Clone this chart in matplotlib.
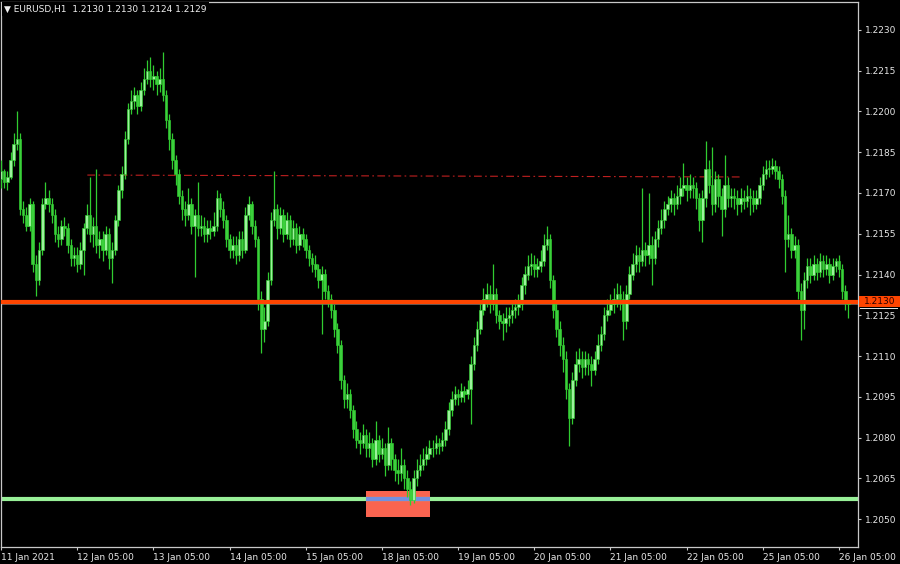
import matplotlib
matplotlib.use("Agg")
import matplotlib.pyplot as plt
import numpy as np
from matplotlib.patches import Rectangle
from matplotlib.transforms import blended_transform_factory

# ---------------- data ----------------
title_text = "\u25BC EURUSD,H1  1.2130 1.2130 1.2124 1.2129"
price_base = 1.2000          # prices below are given in pips above 1.2000
first_open_pips = 175

close_pips = [
    178, 174, 176, 182, 188, 190, 164, 162, 158, 166,
    144, 138, 149, 166, 168, 166, 162, 155, 153, 158,
    157, 151, 146, 147, 144, 149, 157, 162, 155, 158,
    151, 153, 149, 155, 146, 149, 160, 171, 177, 190,
    201, 204, 206, 202, 208, 212, 215, 212, 213, 210,
    212, 206, 197, 190, 182, 177, 169, 164, 162, 166,
    158, 162, 157, 158, 155, 157, 156, 158, 168, 164,
    160, 153, 149, 151, 147, 153, 149, 162, 166, 158,
    153, 131, 120, 123, 138, 160, 164, 157, 162, 155,
    160, 153, 157, 151, 155, 153, 149, 146, 144, 142,
    138, 140, 134, 131, 127, 120, 114, 101, 94, 96,
    90, 83, 79, 78, 81, 76, 78, 72, 79, 74,
    76, 70, 78, 72, 68, 67, 70, 65, 61, 57,
    65, 68, 70, 72, 74, 76, 76, 78, 77, 79,
    83, 90, 94, 96, 95, 97, 96, 98, 107, 114,
    120, 127, 131, 133, 129, 133, 125, 123, 122, 124,
    125, 127, 128, 129, 136, 140, 143, 144, 142, 143,
    145, 151, 153, 138, 127, 120, 114, 109, 98, 87,
    101, 107, 109, 106, 109, 107, 105, 109, 114, 118,
    125, 127, 129, 131, 133, 131, 123, 133, 140, 144,
    147, 145, 149, 147, 151, 146, 153, 157, 160, 164,
    166, 168, 166, 169, 172, 173, 171, 173, 172, 168,
    160, 168, 179, 173, 166, 175, 169, 164, 173, 168,
    169, 168, 166, 168, 167, 169, 168, 166, 168, 173,
    177, 179, 179, 180, 178, 175, 169, 153, 155, 149,
    151, 134, 127, 138, 143, 140, 144, 141, 145, 142,
    144, 140, 143, 145, 142, 134, 130, 129,
]

high_pips = [
    182, 179, 178, 185, 192, 200, 192, 167, 165, 168,
    167, 147, 152, 168, 174, 171, 168, 164, 158, 160,
    161, 159, 153, 150, 150, 152, 159, 166, 176, 161,
    179, 156, 156, 158, 157, 152, 162, 173, 180, 193,
    203, 208, 209, 208, 211, 216, 219, 220, 217, 215,
    216, 222, 208, 199, 192, 184, 179, 171, 167, 172,
    168, 164, 174, 162, 161, 160, 160, 163, 171, 170,
    167, 162, 155, 154, 154, 156, 156, 165, 169, 167,
    160, 154, 134, 128, 141, 163, 178, 166, 165, 164,
    163, 162, 160, 159, 158, 157, 155, 151, 148, 147,
    144, 143, 142, 136, 133, 129, 122, 116, 103, 100,
    98, 92, 86, 82, 85, 83, 82, 80, 86, 81,
    80, 78, 84, 80, 74, 72, 76, 72, 68, 64,
    68, 72, 74, 76, 77, 79, 79, 81, 80, 82,
    86, 93, 97, 99, 98, 100, 99, 101, 110, 117,
    123, 130, 135, 137, 136, 144, 135, 127, 126, 128,
    128, 130, 131, 133, 139, 143, 147, 148, 147, 146,
    149, 155, 158, 155, 140, 130, 123, 117, 112, 100,
    104, 112, 113, 112, 112, 111, 110, 112, 118, 121,
    128, 131, 133, 135, 137, 136, 134, 136, 143, 148,
    151, 150, 172, 152, 170, 154, 156, 160, 164, 167,
    169, 171, 170, 173, 176, 181, 176, 177, 176, 174,
    170, 171, 189, 182, 187, 178, 177, 172, 184, 176,
    172, 172, 171, 172, 171, 173, 172, 171, 171, 176,
    180, 182, 182, 183, 182, 180, 177, 171, 162, 157,
    154, 153, 137, 141, 146, 146, 147, 146, 148, 147,
    147, 146, 146, 146, 147, 144, 136, 130,
]

low_pips = [
    172, 172, 171, 175, 180, 186, 162, 159, 156, 156,
    141, 132, 136, 147, 164, 163, 159, 152, 150, 151,
    154, 148, 143, 143, 141, 142, 140, 155, 152, 150,
    148, 146, 145, 147, 142, 137, 147, 158, 168, 175,
    188, 199, 201, 199, 200, 206, 210, 209, 208, 206,
    207, 204, 194, 186, 179, 173, 166, 160, 158, 160,
    155, 139, 154, 154, 152, 152, 153, 154, 156, 161,
    157, 150, 146, 146, 144, 145, 146, 148, 160, 155,
    150, 127, 111, 115, 121, 136, 158, 153, 155, 152,
    153, 150, 151, 148, 149, 150, 146, 143, 141, 139,
    135, 118, 131, 128, 124, 117, 111, 98, 91, 91,
    87, 80, 76, 74, 76, 73, 73, 69, 70, 71,
    72, 66, 68, 68, 64, 63, 64, 61, 58, 55,
    56, 62, 66, 68, 70, 72, 73, 74, 74, 75,
    77, 81, 88, 92, 92, 93, 93, 94, 85, 105,
    112, 118, 125, 128, 126, 127, 122, 120, 116, 119,
    121, 122, 124, 125, 127, 133, 138, 140, 139, 139,
    141, 143, 149, 135, 124, 117, 110, 104, 94, 77,
    85, 99, 104, 102, 103, 103, 99, 103, 107, 112,
    116, 123, 125, 126, 128, 127, 116, 120, 131, 138,
    141, 141, 143, 143, 144, 136, 144, 150, 155, 157,
    162, 163, 162, 164, 166, 169, 167, 168, 168, 164,
    156, 152, 165, 170, 162, 163, 165, 154, 161, 165,
    165, 164, 162, 163, 164, 165, 162, 163, 164, 166,
    171, 175, 176, 177, 175, 172, 166, 141, 150, 146,
    146, 131, 116, 120, 135, 137, 138, 138, 139, 139,
    140, 137, 138, 141, 139, 131, 127, 124,
]

xtick_bars = [0, 24, 48, 72, 96, 120, 144, 168, 192, 216, 240, 264]
xtick_labels = ["11 Jan 2021", "12 Jan 05:00", "13 Jan 05:00", "14 Jan 05:00",
                "15 Jan 05:00", "18 Jan 05:00", "19 Jan 05:00", "20 Jan 05:00",
                "21 Jan 05:00", "22 Jan 05:00", "25 Jan 05:00", "26 Jan 05:00"]
ytick_values = [1.2050, 1.2065, 1.2080, 1.2095, 1.2110, 1.2125, 1.2140,
                1.2155, 1.2170, 1.2185, 1.2200, 1.2215, 1.2230]

resistance_level = 1.2130      # orange horizontal line
resistance_label = "1.2130"
bid_level = 1.2129             # gray bid line
support_level = 1.20574        # light green horizontal line
zone_start_bar, zone_end_bar = 115.0, 135.2
zone_low, zone_high = 1.20507, 1.20603
trend_start = (27.2, 1.21766)
trend_end = (233.5, 1.21759)

# ---------------- derived ----------------
closes = price_base + np.array(close_pips) / 10000.0
highs = price_base + np.array(high_pips) / 10000.0
lows = price_base + np.array(low_pips) / 10000.0
opens = np.concatenate([[price_base + first_open_pips / 10000.0], closes[:-1]])
bars = np.arange(len(closes))

# ---------------- figure ----------------
W, H = 900, 564
fig = plt.figure(figsize=(W / 100, H / 100), dpi=100, facecolor="black")
ax = fig.add_axes([1 / W, 17 / H, 857 / W, 545 / H])
ax.set_facecolor("black")

ax.set_xlim(0.06, 270.0)
ax.set_ylim(1.20397, 1.22403)

# zone rectangle and levels
ax.add_patch(Rectangle((zone_start_bar, zone_low), zone_end_bar - zone_start_bar,
                       zone_high - zone_low, facecolor="#FA6450", edgecolor="none", zorder=1))
ax.axhline(support_level, color="#98F098", lw=3.0, zorder=1.2)
ax.plot([zone_start_bar, zone_end_bar], [support_level, support_level],
        color="#7390E0", lw=3.0, zorder=1.3, solid_capstyle="butt")
ax.axhline(bid_level, color="#5A5A5A", lw=1.4, zorder=1.5)
ax.plot([trend_start[0], trend_end[0]], [trend_start[1], trend_end[1]],
        color="#C02020", lw=0.8, dashes=(7, 3, 1.5, 3), zorder=1.6)

# candles
wick_color = "#30CC30"
bull = closes >= opens
ax.vlines(bars, lows, highs, color=wick_color, lw=0.9, zorder=3)
body_bottom = np.minimum(opens, closes)
body_height = np.maximum(np.abs(closes - opens), 0.00002)
ax.bar(bars[bull], body_height[bull], bottom=body_bottom[bull], width=0.8,
       color="#9CF29C", edgecolor=wick_color, linewidth=0.45, zorder=3.1)
ax.bar(bars[~bull], body_height[~bull], bottom=body_bottom[~bull], width=0.8,
       color="#3CD03C", edgecolor=wick_color, linewidth=0.45, zorder=3.1)

ax.axhline(resistance_level, color="#FF4500", lw=3.0, zorder=4)

# axes styling
for sp in ax.spines.values():
    sp.set_color("#C8C8C8")
    sp.set_linewidth(0.9)

ax.yaxis.tick_right()
ax.set_yticks(ytick_values)
ax.set_yticklabels([f"{v:.4f}" for v in ytick_values])
ax.set_xticks(xtick_bars)
ax.set_xticklabels(xtick_labels, ha="left")
ax.tick_params(axis="both", colors="#C8C8C8", labelcolor="#E6E6E6",
               labelsize=6.5, direction="out", length=2.5, width=0.8)
ax.tick_params(axis="x", pad=2)
ax.tick_params(axis="y", pad=2.5)

# price label for the orange level: box spanning to the right edge
trans = blended_transform_factory(fig.transFigure, ax.transData)
fig_trans = fig.transFigure
# box in figure coordinates, centred vertically on the level
disp_y = ax.transData.transform((0, resistance_level))[1]
fig_y = fig.transFigure.inverted().transform((0, disp_y))[1]
box_h = 11 / H
fig.patches.append(Rectangle((859 / W, fig_y - box_h / 2), 41 / W, box_h,
                             transform=fig.transFigure, facecolor="#FF4500",
                             edgecolor="none", zorder=5))
fig.text(864 / W, fig_y, resistance_label, fontsize=6.5, color="#2A0000",
         va="center", ha="left", zorder=6)
fig.patches.append(Rectangle((860 / W, fig_y - box_h / 2 - 2 / H), 38 / W, 1 / H,
                             transform=fig.transFigure, facecolor="#E0E0E0",
                             edgecolor="none", zorder=5))

# title
fig.text(4 / W, 1 - 9 / H, title_text, fontsize=6.5, color="#F0F0F0",
         va="center", ha="left",
         bbox=dict(boxstyle="square,pad=0.25", facecolor="black", edgecolor="none"))

fig.savefig("out.png", dpi=100, facecolor="black")
